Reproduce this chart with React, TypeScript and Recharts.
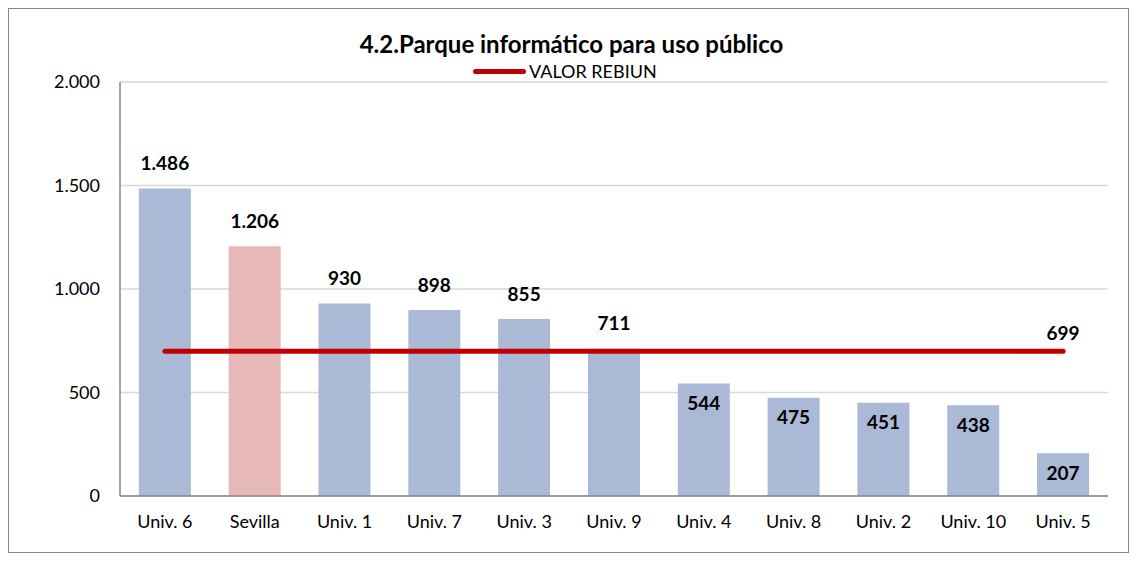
import { ComposedChart, Bar, Line, XAxis, YAxis, CartesianGrid, Cell, LabelList } from 'recharts';

const categories = ['Univ. 6', 'Sevilla', 'Univ. 1', 'Univ. 7', 'Univ. 3', 'Univ. 9', 'Univ. 4', 'Univ. 8', 'Univ. 2', 'Univ. 10', 'Univ. 5'];
const parque = [1486, 1206, 930, 898, 855, 711, 544, 475, 451, 438, 207];
const rebiun = [699, 699, 699, 699, 699, 699, 699, 699, 699, 699, 699];
const yTicks = [0, 500, 1000, 1500, 2000];

const data = categories.map((name, i) => ({ name, parque: parque[i], rebiun: rebiun[i] }));

const FONT = 'Lato, "Open Sans", sans-serif';
const fmtNum = (v: number) => String(v).replace(/\B(?=(\d{3})+(?!\d))/g, '.');

const BarLabel = (props: any) => {
  const { x, y, width, value } = props;
  const above = value > rebiun[0];
  const cy = above ? y - 26 : y + 19;
  return (
    <text x={x + width / 2} y={cy} textAnchor="middle" dominantBaseline="central"
      fontFamily={FONT} fontWeight="bold" fontSize={19} fill="#000">
      {fmtNum(value)}
    </text>
  );
};

const LineLabel = (props: any) => {
  const { x, y, value, index } = props;
  if (index !== categories.length - 1) return null;
  return (
    <text x={x} y={y - 19} textAnchor="middle" dominantBaseline="central"
      fontFamily={FONT} fontWeight="bold" fontSize={19} fill="#000">
      {fmtNum(value)}
    </text>
  );
};

const App = () => {
  return (
    <div style={{ width: 1119, height: 543, border: '1px solid #868686', position: 'relative', background: '#fff' }}>
      <div style={{ position: 'absolute', left: 6, right: 0, top: 20, textAlign: 'center', fontFamily: FONT, fontWeight: 'bold', fontSize: 24, color: '#000' }}>
        4.2.Parque informático para uso público
      </div>
      <div style={{ position: 'absolute', left: 464, top: 51, display: 'flex', alignItems: 'center', fontFamily: FONT, fontSize: 18, color: '#000' }}>
        <span style={{ display: 'inline-block', width: 53, height: 5, borderRadius: 3, background: '#C00000', marginRight: 3 }} />
        VALOR REBIUN
      </div>
      <ComposedChart width={1119} height={543} data={data}
        margin={{ top: 73, right: 20, bottom: 22, left: 0 }} barCategoryGap="21%">
        <CartesianGrid vertical={false} stroke="#D9D9D9" strokeWidth={1.5} />
        <XAxis dataKey="name" tickLine={false} axisLine={{ stroke: '#868686', strokeWidth: 1.5 }}
          tick={{ fontFamily: FONT, fontSize: 18, fill: '#000' }} tickMargin={13} height={34} interval={0} />
        <YAxis domain={[0, 2000]} ticks={yTicks} tickFormatter={fmtNum} width={111} tickLine={false}
          axisLine={{ stroke: '#868686', strokeWidth: 1.5 }} tickMargin={14}
          tick={{ fontFamily: FONT, fontSize: 18, fill: '#000' }} />
        <Bar dataKey="parque" isAnimationActive={false}>
          {data.map((d) => (
            <Cell key={d.name} fill={d.name === 'Sevilla' ? '#E6B9B8' : '#AAB9D6'} />
          ))}
          <LabelList dataKey="parque" content={BarLabel} />
        </Bar>
        <Line dataKey="rebiun" stroke="#C00000" strokeWidth={5} strokeLinecap="round" dot={false}
          activeDot={false} isAnimationActive={false} type="linear">
          <LabelList dataKey="rebiun" content={LineLabel} />
        </Line>
      </ComposedChart>
    </div>
  );
};

export default App;
